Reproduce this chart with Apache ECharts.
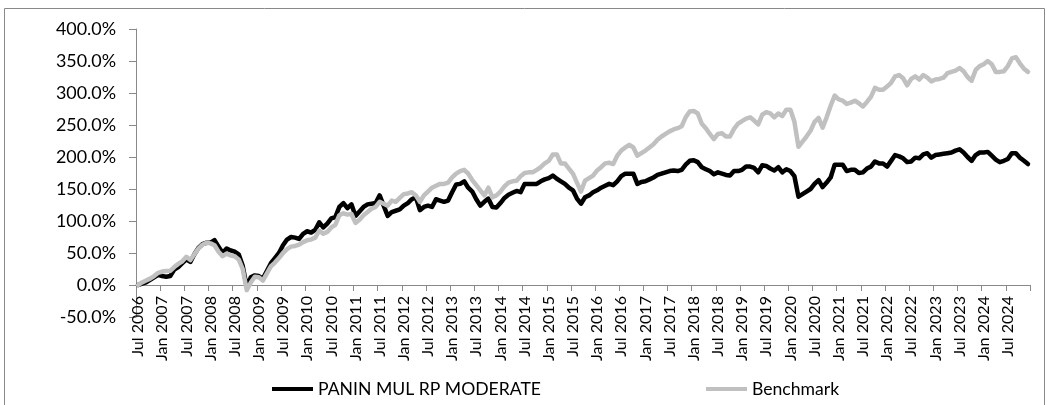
<!DOCTYPE html>
<html>
<head>
<meta charset="utf-8">
<script src="https://cdn.jsdelivr.net/npm/echarts@6/dist/echarts.min.js"></script>
<style>
html,body{margin:0;padding:0;background:#fff;}
#chart{width:1047px;height:405px;}
</style>
</head>
<body>
<div id="chart"></div>
<script>
// Monthly categories: Jul 2006 .. Dec 2024
const monthNames = ['Jan','Feb','Mar','Apr','May','Jun','Jul','Aug','Sep','Oct','Nov','Dec'];
const startYear = 2006, startMonth = 6, monthCount = 222;
const categories = [];
for (let i = 0; i < monthCount; i++) {
  const mi = startMonth + i;
  categories.push(monthNames[mi % 12] + ' ' + (startYear + Math.floor(mi / 12)));
}

const seriesNames = ['PANIN MUL RP MODERATE', 'Benchmark'];

// Fund cumulative return (%)
const fundValues = [
  0,2,4,8,12,16,14,13,14,24,28,34,
  40,36,48,58,64,66,66,70,60,50,57,54,
  52,48,30,-3,12,15,14,10,22,34,42,50,
  62,71,75,74,72,80,84,82,86,98,90,96,
  104,106,122,128,120,126,108,115,122,126,127,128,
  140,124,108,114,116,118,124,128,134,137,117,122,
  124,122,134,132,130,132,145,157,158,162,152,146,
  134,124,130,135,122,121,128,136,141,144,147,145,
  158,158,158,158,162,165,167,171,166,162,158,152,
  148,135,127,137,140,145,148,152,155,158,156,162,
  170,174,174,174,158,161,162,165,168,172,174,176,
  178,179,178,180,188,194,195,192,184,181,178,173,
  176,174,172,171,178,178,180,185,185,183,176,187,
  186,182,179,184,176,181,178,170,138,142,146,150,
  158,164,153,160,168,188,188,188,178,180,180,175,
  176,182,185,193,190,190,185,194,203,201,198,192,
  193,199,198,204,206,199,203,204,205,206,207,210,
  212,207,200,194,203,207,207,208,202,196,192,194,
  197,206,206,199,194,189
];

// Benchmark cumulative return (%)
const benchValues = [
  0,4,7,10,14,19,21,22,22,28,33,37,
  44,39,48,57,63,66,65,62,52,45,49,46,
  45,40,25,-8,4,13,12,7,18,29,35,42,
  50,56,60,61,63,67,70,71,74,85,80,83,
  90,94,109,112,110,111,97,102,109,114,119,122,
  130,127,124,132,130,136,142,143,145,140,130,140,
  146,152,155,158,158,160,168,174,178,180,174,164,
  156,148,140,152,137,140,146,154,160,162,163,170,
  175,176,176,180,184,190,194,204,204,190,190,182,
  174,160,146,163,167,171,179,184,190,191,189,202,
  210,215,219,215,202,206,210,215,220,227,232,236,
  240,243,245,248,262,271,272,268,252,245,236,228,
  236,237,232,232,244,252,256,260,262,257,251,266,
  270,268,262,268,264,274,274,255,216,224,232,241,
  255,261,246,262,280,296,290,288,283,285,288,284,
  279,286,294,308,305,305,310,316,326,328,323,312,
  322,326,321,328,324,318,321,322,324,331,333,335,
  339,334,325,319,336,342,345,350,345,333,333,334,
  342,354,356,346,338,333
];

const yMin = -50, yMax = 400, yStep = 50;

const FONT = 'Lato';
const AXIS_GRAY = '#898989';

// fit font sizes to the reference text widths
const mctx = document.createElement('canvas').getContext('2d');
function fitSize(text, target) {
  mctx.font = '100px ' + FONT;
  const w = mctx.measureText(text).width;
  return Math.round(1000 * target / w) / 10;
}
const ySize = fitSize('400.0%', 60);
const xSize = fitSize('Jul 2006', 61);
const legSize = fitSize('PANIN MUL RP MODERATE', 223);

const gridTop = 29, gridBottom = 88, plotH = 405 - gridTop - gridBottom;
const zeroOffset = -plotH * (0 - yMin) / (yMax - yMin);

const chart = echarts.init(document.getElementById('chart'), null, {renderer: 'canvas'});
chart.setOption({
  animation: false,
  backgroundColor: '#ffffff',
  textStyle: {fontFamily: FONT},
  graphic: [{
    type: 'rect',
    silent: true,
    shape: {x: 4.5, y: 8.5, width: 1040, height: 420},
    style: {fill: 'none', stroke: AXIS_GRAY, lineWidth: 1}
  }],
  legend: [
    {
      data: [seriesNames[0]],
      left: 272, top: 380, padding: 0,
      itemWidth: 41, itemHeight: 4, icon: 'rect',
      textStyle: {fontFamily: FONT, fontSize: legSize, color: '#000'}
    },
    {
      data: [seriesNames[1]],
      left: 706, top: 380, padding: 0,
      itemWidth: 41, itemHeight: 4, icon: 'rect',
      textStyle: {fontFamily: FONT, fontSize: legSize, color: '#000'}
    }
  ],
  grid: {left: 136, right: 17, top: gridTop, bottom: gridBottom, containLabel: false},
  xAxis: {
    type: 'category',
    data: categories,
    boundaryGap: true,
    offset: zeroOffset,
    axisLine: {onZero: false, lineStyle: {color: AXIS_GRAY, width: 1}},
    axisTick: {show: true, interval: 5, length: 6, lineStyle: {color: AXIS_GRAY}},
    axisLabel: {
      interval: 5, rotate: 90, margin: 11,
      fontFamily: FONT, fontSize: xSize, color: '#000'
    },
    splitLine: {show: false}
  },
  yAxis: {
    type: 'value',
    min: yMin, max: yMax, interval: yStep,
    axisLine: {show: true, lineStyle: {color: AXIS_GRAY, width: 1}},
    axisTick: {show: true, length: 7, lineStyle: {color: AXIS_GRAY}},
    axisLabel: {
      margin: 20, fontFamily: FONT, fontSize: ySize, color: '#000',
      formatter: v => v.toFixed(1) + '%'
    },
    splitLine: {show: false}
  },
  series: [
    {
      name: seriesNames[0], type: 'line', data: fundValues,
      symbol: 'none', smooth: false,
      lineStyle: {color: '#000000', width: 4.5, join: 'round', cap: 'round'},
      itemStyle: {color: '#000000'}
    },
    {
      name: seriesNames[1], type: 'line', data: benchValues,
      symbol: 'none', smooth: false,
      lineStyle: {color: '#c0c0c0', width: 4.5, join: 'round', cap: 'round'},
      itemStyle: {color: '#c0c0c0'}
    }
  ]
});
</script>
</body>
</html>
